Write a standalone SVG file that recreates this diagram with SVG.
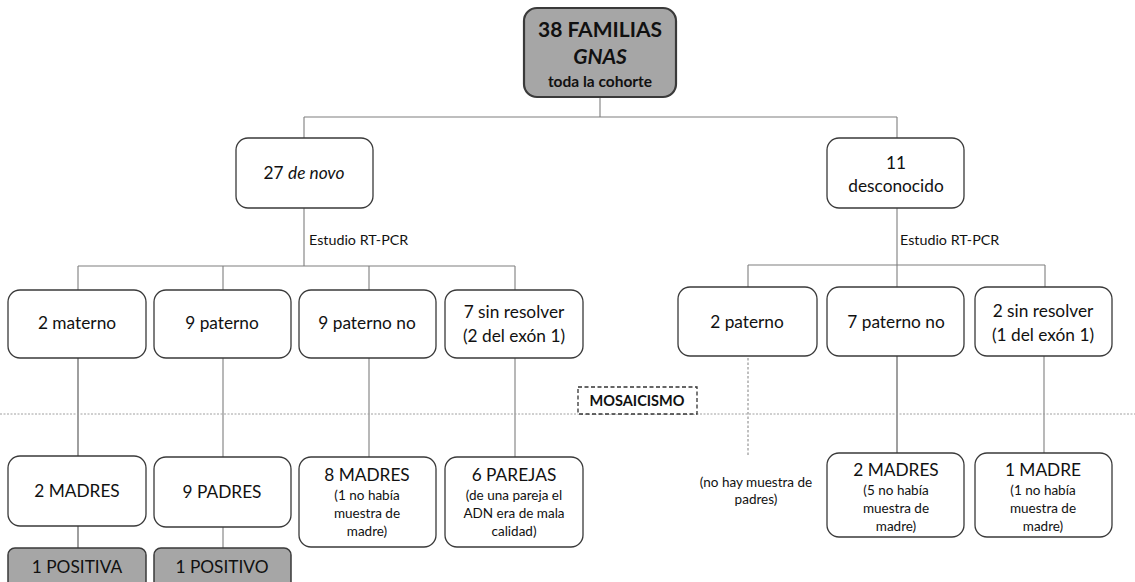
<svg xmlns="http://www.w3.org/2000/svg" width="1135" height="582" viewBox="0 0 1135 582">
<style>
text{font-family:Lato,"Open Sans","Liberation Sans",sans-serif;fill:#111;text-anchor:middle}
.box{fill:#fff;stroke:#3a3a3a;stroke-width:1.3}
.gbox{fill:#a6a6a6;stroke:#3a3a3a;stroke-width:1.5}
.top{fill:#a6a6a6;stroke:#3a3a3a;stroke-width:2.2}
.m{font-size:17.3px}
.s{font-size:13.5px}
.lbl{font-size:14.3px;text-anchor:start}
.ln{stroke:#7f7f7f;stroke-width:1.1;fill:none}
.dk{stroke:#505050;stroke-width:1.1;fill:none}
.dash{stroke:#808080;stroke-width:1;stroke-dasharray:2.5 2;fill:none}
.dot{stroke:#a0a0a0;stroke-width:1;stroke-dasharray:2 1.5;fill:none}
</style>
<g id="connectors">
<path class="ln" d="M600 97V117M304 117H897M304 117V138M897 117V138"/>
<path class="ln" d="M304 208V266M78 266H515M78 266V290M223 266V290M369 266V290M515 266V290"/>
<path class="ln" d="M897 208V265M748 265H1045M748 265V287M897 265V287M1045 265V287"/>
<path class="dk" d="M78 358V456M78 526V548"/>
<path class="ln" d="M223 358V457M223 527V548M369 358V457M515 358V457"/>
<path class="dk" d="M897 356V453"/>
<path class="ln" d="M1044 356V453"/>
<path class="dash" d="M748 358V455"/>
<path class="dot" d="M0 414H1135"/>
</g>
<g id="n-top"><rect class="top" x="524" y="8" width="152" height="89" rx="13"/>
<text x="600" y="37" style="font-size:21px;font-weight:bold">38 FAMILIAS</text>
<text x="600" y="64" style="font-size:21px;font-weight:bold;font-style:italic">GNAS</text>
<text x="600" y="87" style="font-size:15.5px;font-weight:bold">toda la cohorte</text></g>
<g id="n-denovo"><rect class="box" x="236" y="138" width="137" height="70" rx="12"/>
<text class="m" x="304" y="179">27 <tspan font-style="italic">de novo</tspan></text></g>
<g id="n-desc"><rect class="box" x="827" y="138" width="137" height="70" rx="12"/>
<text class="m" x="896" y="169">11</text><text class="m" x="896" y="192">desconocido</text></g>
<text class="lbl" x="309" y="245">Estudio RT-PCR</text>
<text class="lbl" x="900" y="245">Estudio RT-PCR</text>
<g id="n-mat"><rect class="box" x="8" y="290" width="138" height="68" rx="12"/><text class="m" x="77" y="329">2 materno</text></g>
<g id="n-pat"><rect class="box" x="154" y="290" width="137" height="68" rx="12"/><text class="m" x="222" y="329">9 paterno</text></g>
<g id="n-patno"><rect class="box" x="299" y="290" width="137" height="68" rx="12"/><text class="m" x="367" y="329">9 paterno no</text></g>
<g id="n-sin7"><rect class="box" x="445" y="290" width="138" height="68" rx="12"/><text class="m" x="514" y="318">7 sin resolver</text><text class="m" x="514" y="342">(2 del exón 1)</text></g>
<g id="n-pat2"><rect class="box" x="678" y="287" width="139" height="69" rx="12"/><text class="m" x="747" y="328">2 paterno</text></g>
<g id="n-patno7"><rect class="box" x="827" y="287" width="137" height="69" rx="12"/><text class="m" x="896" y="328">7 paterno no</text></g>
<g id="n-sin2"><rect class="box" x="975" y="287" width="137" height="69" rx="12"/><text class="m" x="1043" y="317">2 sin resolver</text><text class="m" x="1043" y="341">(1 del exón 1)</text></g>
<g id="n-mosaic"><rect x="578" y="387" width="119" height="27" fill="#fff" stroke="#333" stroke-width="1.3" stroke-dasharray="4 2.5"/><text x="637" y="406" style="font-size:14.5px;font-weight:bold">MOSAICISMO</text></g>
<g id="n-madres2"><rect class="box" x="8" y="456" width="138" height="70" rx="12"/><text class="m" x="77" y="497">2 MADRES</text></g>
<g id="n-padres9"><rect class="box" x="154" y="457" width="137" height="70" rx="12"/><text class="m" x="222" y="498">9 PADRES</text></g>
<g id="n-madres8"><rect class="box" x="299" y="457" width="137" height="90" rx="12"/><text class="m" x="367" y="481">8 MADRES</text><text class="s" x="367" y="500">(1 no había</text><text class="s" x="367" y="518">muestra de</text><text class="s" x="367" y="536">madre)</text></g>
<g id="n-parejas6"><rect class="box" x="445" y="457" width="138" height="90" rx="12"/><text class="m" x="514" y="481">6 PAREJAS</text><text class="s" x="514" y="500">(de una pareja el</text><text class="s" x="514" y="518">ADN era de mala</text><text class="s" x="514" y="536">calidad)</text></g>
<g id="n-nohay"><text class="s" x="756" y="487">(no hay muestra de</text><text class="s" x="756" y="504">padres)</text></g>
<g id="n-madres2b"><rect class="box" x="827" y="453" width="137" height="84" rx="12"/><text class="m" x="896" y="476">2 MADRES</text><text class="s" x="896" y="495">(5 no había</text><text class="s" x="896" y="513">muestra de</text><text class="s" x="896" y="531">madre)</text></g>
<g id="n-madre1"><rect class="box" x="975" y="453" width="137" height="84" rx="12"/><text class="m" x="1043" y="476">1 MADRE</text><text class="s" x="1043" y="495">(1 no había</text><text class="s" x="1043" y="513">muestra de</text><text class="s" x="1043" y="531">madre)</text></g>
<g id="n-pos1"><rect class="gbox" x="8" y="548" width="138" height="44" rx="7"/><text class="m" x="77" y="573">1 POSITIVA</text></g>
<g id="n-pos2"><rect class="gbox" x="154" y="548" width="137" height="44" rx="7"/><text class="m" x="222" y="573">1 POSITIVO</text></g>
</svg>
